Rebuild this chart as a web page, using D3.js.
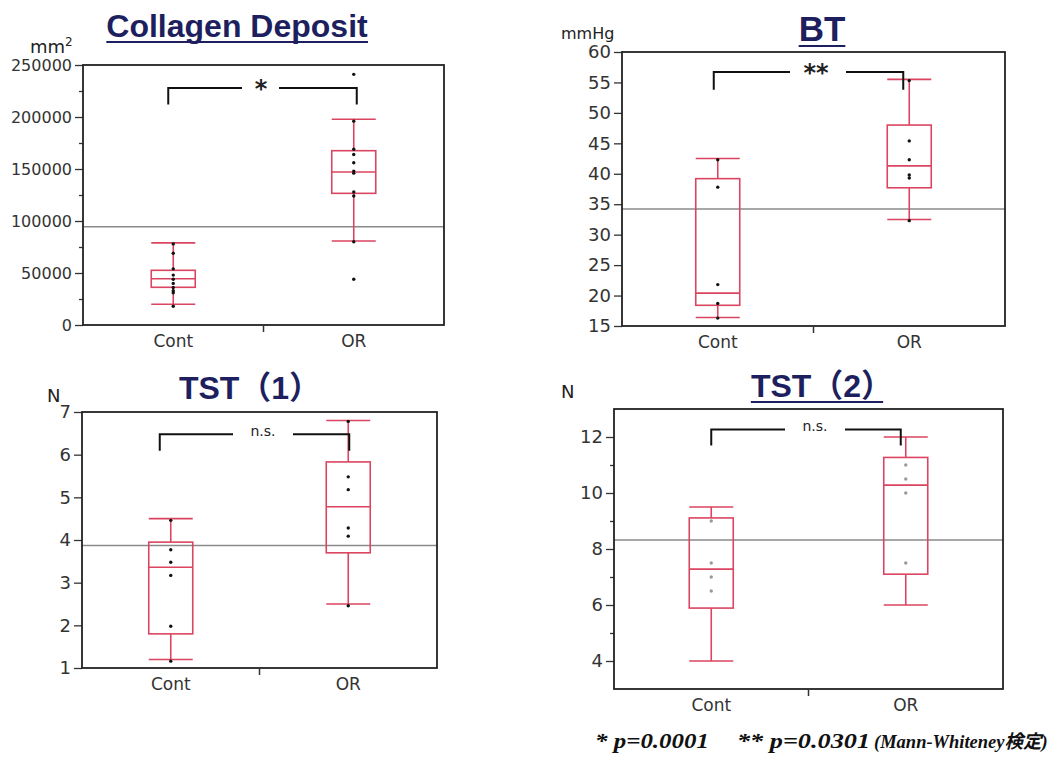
<!DOCTYPE html>
<html>
<head>
<meta charset="utf-8">
<script src="https://cdn.jsdelivr.net/npm/d3@7"></script>
<style>
  body { margin: 0; background: #fff; }
  .tick text { font-family: "DejaVu Sans", Verdana, sans-serif; fill: #333; }
  .tick line { stroke: #333; stroke-width: 1.3; }
  .group-label { font-family: "DejaVu Sans", Verdana, sans-serif; fill: #333; }
  .unit-label { font-family: "DejaVu Sans", Verdana, sans-serif; fill: #222; }
  .title { font-family: "Liberation Sans", Arial, "Noto Sans CJK JP", sans-serif; font-weight: bold; fill: #1d1f5e; }
  .foot { font-family: "Liberation Serif", "Times New Roman", "Noto Sans CJK JP", serif; font-style: italic; font-weight: bold; fill: #111; }
</style>
</head>
<body>
<div id="chart"></div>
<script>
const groups = ['Cont', 'OR'];

// Collagen Deposit (mm2)
const collagenTicks = [0, 50000, 100000, 150000, 200000, 250000];
const collagenMinor = [25000, 75000, 125000, 175000, 225000];
// [low whisker, Q1, median, Q3, high whisker]
const collagenBoxes = [[20000, 36250, 44500, 52600, 79000], [80800, 126600, 147100, 167600, 197800]];
const collagenPoints = [
  [78000, 69000, 54000, 48000, 44000, 40000, 36000, 33000, 31000, 18000],
  [241000, 196000, 169000, 164000, 156000, 148000, 146000, 128000, 124000, 80000, 44000]
];
const collagenMean = 94500;
const collagenBracket = [228000, 212000];

// BT (mmHg)
const btTicks = [15, 20, 25, 30, 35, 40, 45, 50, 55, 60];
const btBoxes = [[16.4, 18.4, 20.4, 39.2, 42.5], [32.5, 37.7, 41.3, 48.0, 55.5]];
const btPoints = [
  [42.3, 37.8, 21.8, 18.7, 16.3],
  [55.3, 45.4, 42.3, 39.8, 39.3, 32.3]
];
const btMean = 34.2;
const btBracket = [56.7, 53.8];

// TST(1) (N)
const tst1Ticks = [1, 2, 3, 4, 5, 6, 7];
const tst1Boxes = [[1.2, 1.8, 3.36, 3.95, 4.5], [2.5, 3.7, 4.78, 5.83, 6.8]];
const tst1Points = [
  [4.46, 3.77, 3.48, 3.17, 1.98, 1.16],
  [6.78, 5.48, 5.18, 4.28, 4.09, 2.46]
];
const tst1Mean = 3.87;
const tst1Bracket = [6.48, 6.09];

// TST(2) (N)
const tst2Ticks = [4, 6, 8, 10, 12];
const tst2Minor = [5, 7, 9, 11];
const tst2Boxes = [[4.0, 5.89, 7.28, 9.11, 9.5], [6.0, 7.1, 10.28, 11.27, 12.0]];
const tst2Points = [
  [9.0, 7.5, 7.0, 6.5],
  [11.0, 10.5, 10.0, 7.5]
];
const tst2Mean = 8.32;
const tst2Bracket = [12.27, 11.7];

const footnoteParts = ['* p=0.0001', '** p=0.0301', '(Mann-Whiteney\u691c\u5b9a)'];

const panels = [
  {
    title: 'Collagen Deposit', underline: true, unit: 'mm', unitSup: '2',
    ticks: collagenTicks, minor: collagenMinor, domain: [0, 250000],
    boxes: collagenBoxes, points: collagenPoints, mean: collagenMean, bracket: collagenBracket,
    sig: '*', sigSize: 24, sigBold: true,
    frame: { left: 83, right: 444, top: 65, bottom: 325 },
    titleX: 237, titleY: 37, titleSize: 32, unitX: 30, unitY: 53, unitSize: 18, tickSize: 16,
    bracketDx: [-5, 3], gap: [242, 279], sigX: 261, dotColor: '#111', underlineTrim: 0
  },
  {
    title: 'BT', underline: true, unit: 'mmHg',
    ticks: btTicks, domain: [15, 60],
    boxes: btBoxes, points: btPoints, mean: btMean, bracket: btBracket,
    sig: '**', sigSize: 24, sigBold: true,
    frame: { left: 622, right: 1005, top: 52, bottom: 326 },
    titleX: 822, titleY: 41, titleSize: 35, unitX: 561, unitY: 39, unitSize: 16, tickSize: 18,
    bracketDx: [-4, -6], gap: [790, 846], sigX: 816, dotColor: '#111', underlineTrim: 0
  },
  {
    title: 'TST\uff081\uff09', underline: false, unit: 'N',
    ticks: tst1Ticks, domain: [1, 7],
    boxes: tst1Boxes, points: tst1Points, mean: tst1Mean, bracket: tst1Bracket,
    sig: 'n.s.', sigSize: 14, sigBold: false,
    frame: { left: 82, right: 437, top: 412, bottom: 668 },
    titleX: 250, titleY: 399, titleSize: 32, unitX: 47, unitY: 402, unitSize: 18, tickSize: 18,
    bracketDx: [-11, 1], gap: [233, 293], sigX: 263, dotColor: '#111', underlineTrim: 0
  },
  {
    title: 'TST\uff082\uff09', underline: true, unit: 'N',
    ticks: tst2Ticks, minor: tst2Minor, domain: [3, 13],
    boxes: tst2Boxes, points: tst2Points, mean: tst2Mean, bracket: tst2Bracket,
    sig: 'n.s.', sigSize: 14, sigBold: false,
    frame: { left: 614, right: 1003, top: 409, bottom: 689 },
    titleX: 822, titleY: 397, titleSize: 32, unitX: 561, unitY: 398, unitSize: 18, tickSize: 18,
    bracketDx: [0, -5], gap: [785, 845], sigX: 815, dotColor: '#9a9a9a', underlineTrim: 10
  }
];

const width = 1063, height = 759;
const boxColor = '#db4561';
const boxWidth = 44;

const svg = d3.select('#chart').append('svg')
  .attr('width', width)
  .attr('height', height)
  .style('background', '#fff');

panels.forEach(p => {
  const f = p.frame;
  const x = d3.scalePoint().domain(groups).range([f.left, f.right]).padding(0.5);
  const y = d3.scaleLinear().domain(p.domain).range([f.bottom, f.top]);
  const g = svg.append('g');

  // title
  const title = g.append('text')
    .attr('class', 'title')
    .attr('x', p.titleX)
    .attr('y', p.titleY)
    .attr('text-anchor', 'middle')
    .style('font-size', p.titleSize + 'px')
    .text(p.title);
  if (p.underline) {
    const bb = title.node().getBBox();
    g.append('line')
      .attr('x1', bb.x).attr('x2', bb.x + bb.width - p.underlineTrim)
      .attr('y1', p.titleY + 5).attr('y2', p.titleY + 5)
      .attr('stroke', '#1d1f5e').attr('stroke-width', 2);
  }

  // unit label
  const unit = g.append('text')
    .attr('class', 'unit-label')
    .attr('x', p.unitX)
    .attr('y', p.unitY)
    .style('font-size', p.unitSize + 'px')
    .text(p.unit);
  if (p.unitSup) {
    unit.append('tspan')
      .attr('dy', -7)
      .style('font-size', '12px')
      .text(p.unitSup);
  }

  // y axis
  const yAxisG = g.append('g')
    .attr('transform', `translate(${f.left},0)`)
    .call(d3.axisLeft(y).tickValues(p.ticks).tickFormat(d3.format('d'))
      .tickSize(8).tickSizeOuter(0).tickPadding(3))
    .call(a => a.select('.domain').remove());
  yAxisG.selectAll('.tick text').style('font-size', p.tickSize + 'px');

  if (p.minor) {
    g.append('g')
      .attr('transform', `translate(${f.left},0)`)
      .call(d3.axisLeft(y).tickValues(p.minor).tickSize(4).tickFormat(''))
      .call(a => a.select('.domain').remove());
  }

  // grand mean line
  g.append('line')
    .attr('x1', f.left).attr('x2', f.right)
    .attr('y1', y(p.mean)).attr('y2', y(p.mean))
    .attr('stroke', '#8a8a8a').attr('stroke-width', 1.5);

  // boxes
  groups.forEach((grp, i) => {
    const [lo, q1, med, q3, hi] = p.boxes[i];
    const cx = x(grp);
    const bg = g.append('g')
      .attr('fill', 'none')
      .attr('stroke', boxColor)
      .attr('stroke-width', 1.6);
    bg.append('line').attr('x1', cx).attr('x2', cx).attr('y1', y(hi)).attr('y2', y(q3));
    bg.append('line').attr('x1', cx).attr('x2', cx).attr('y1', y(q1)).attr('y2', y(lo));
    bg.append('rect')
      .attr('x', cx - boxWidth / 2).attr('width', boxWidth)
      .attr('y', y(q3)).attr('height', y(q1) - y(q3));
    [lo, med, hi].forEach(v => {
      bg.append('line')
        .attr('x1', cx - boxWidth / 2).attr('x2', cx + boxWidth / 2)
        .attr('y1', y(v)).attr('y2', y(v));
    });

    g.selectAll(null)
      .data(p.points[i])
      .join('circle')
        .attr('cx', cx)
        .attr('cy', d => y(d))
        .attr('r', 1.7)
        .attr('fill', p.dotColor);
  });

  // plot frame
  g.append('rect')
    .attr('x', f.left).attr('y', f.top)
    .attr('width', f.right - f.left).attr('height', f.bottom - f.top)
    .attr('fill', 'none')
    .attr('stroke', '#222')
    .attr('stroke-width', 1.8);

  // middle tick on x axis
  const mid = (x(groups[0]) + x(groups[1])) / 2;
  g.append('line')
    .attr('x1', mid).attr('x2', mid)
    .attr('y1', f.bottom).attr('y2', f.bottom + 7)
    .attr('stroke', '#333').attr('stroke-width', 1.5);

  // group labels
  g.selectAll('.group-label')
    .data(groups)
    .join('text')
      .attr('class', 'group-label')
      .attr('x', d => x(d))
      .attr('y', f.bottom + 22)
      .attr('text-anchor', 'middle')
      .style('font-size', '17px')
      .text(d => d);

  // significance bracket
  const bx1 = x(groups[0]) + p.bracketDx[0];
  const bx2 = x(groups[1]) + p.bracketDx[1];
  const by = y(p.bracket[0]);
  const byLeg = y(p.bracket[1]);
  g.append('path')
    .attr('d', `M${bx1},${byLeg}V${by}H${p.gap[0]}M${p.gap[1]},${by}H${bx2}V${byLeg}`)
    .attr('fill', 'none')
    .attr('stroke', '#111')
    .attr('stroke-width', 2);
  g.append('text')
    .attr('x', p.sigX)
    .attr('y', p.sigBold ? by + 9 : by + 2)
    .attr('text-anchor', 'middle')
    .style('font-family', '"DejaVu Sans", Verdana, sans-serif')
    .style('font-size', p.sigSize + 'px')
    .style('font-weight', p.sigBold ? 'bold' : 'normal')
    .attr('fill', '#222')
    .text(p.sig);
});

// footnote in three pieces, placed as in the picture
const footX = [595, 737, 874];
const footSize = [21, 21, 18.5];
const footW = [114, 133, null];
svg.selectAll('.foot')
  .data(footnoteParts)
  .join('text')
    .attr('class', 'foot')
    .attr('x', (d, i) => footX[i])
    .attr('y', 748)
    .attr('textLength', (d, i) => footW[i])
    .attr('lengthAdjust', (d, i) => footW[i] ? 'spacingAndGlyphs' : null)
    .style('font-size', (d, i) => footSize[i] + 'px')
    .text(d => d);
</script>
</body>
</html>
